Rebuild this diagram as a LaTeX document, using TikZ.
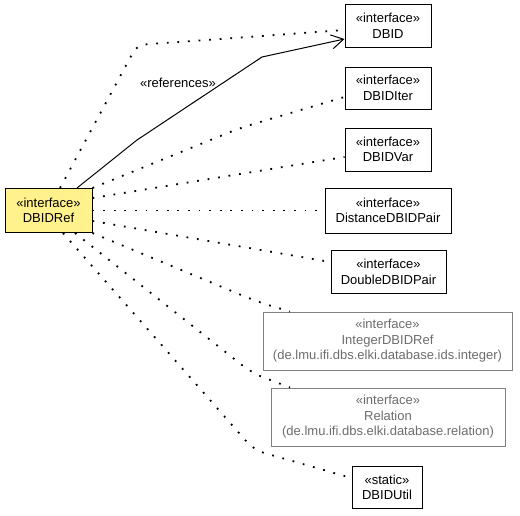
\documentclass[tikz,border=0pt]{standalone}
\usepackage{fontspec}
\setmainfont{Liberation Sans}
\usepackage{xcolor}
\usetikzlibrary{arrows.meta,positioning}
\definecolor{refyellow}{RGB}{255,241,140}
\definecolor{pkggray}{RGB}{128,128,128}
\tikzstyle{cls} = [rectangle, draw=black, fill=white, line width=1pt,
    align=center, inner sep=0pt, font=\fontsize{13}{15.5}\selectfont]
\tikzstyle{extcls} = [cls, draw=pkggray, text=pkggray!85!black]
\tikzstyle{dep} = [line width=1.8pt, dash pattern=on 1.8pt off 8.8pt]
\tikzstyle{assoc} = [line width=1pt, -{Straight Barb[length=12pt,width=14pt]}]

\begin{document}
\begin{tikzpicture}[x=1pt, y=-1pt]
\useasboundingbox (0,0) rectangle (520,515);

% ── Source class ────
\node[cls, fill=refyellow, minimum width=87pt, minimum height=44pt] (dbidref) at (48.5,210.5) {«interface»\\DBIDRef};

% ── Targets ────
\node[cls, minimum width=86pt, minimum height=43pt] (dbid) at (388,26) {«interface»\\DBID};
\node[cls, minimum width=86pt, minimum height=42pt] (dbiditer) at (388,88) {«interface»\\DBIDIter};
\node[cls, minimum width=86pt, minimum height=43pt] (dbidvar) at (388,149.5) {«interface»\\DBIDVar};
\node[cls, minimum width=126pt, minimum height=45pt] (distpair) at (388,210.5) {«interface»\\DistanceDBIDPair};
\node[cls, minimum width=115pt, minimum height=43pt] (doublepair) at (388.5,272) {«interface»\\DoubleDBIDPair};
\node[extcls, minimum width=249pt, minimum height=58pt] (intref) at (387.5,341) {«interface»\\IntegerDBIDRef\\(de.lmu.ifi.dbs.elki.database.ids.integer)};
\node[extcls, minimum width=234pt, minimum height=58pt] (relation) at (388,417) {«interface»\\Relation\\(de.lmu.ifi.dbs.elki.database.relation)};
\node[cls, minimum width=70pt, minimum height=42pt] (dbidutil) at (387,487.5) {«static»\\DBIDUtil};

% ── Association ────
\draw[assoc] ([xshift=28.5pt]dbidref.north) -- (137,140) -- (262,57) -- ([yshift=-13pt]dbid.west);
\node[font=\fontsize{13}{15.5}\selectfont] (reflabel) at (178,83) {«references»};

% ── Dependencies ────
\draw[dep, rounded corners=8pt] ([xshift=11.5pt]dbidref.north) -- (137,45) -- ([yshift=-4pt]dbid.west);
\draw[dep, rounded corners=12pt] (dbidref.north east) -- (240,128) -- ([yshift=-9pt]dbiditer.west);
\draw[dep] ([yshift=12.5pt]dbidref.east) -- ([yshift=-7.5pt]dbidvar.west);
\draw[dep] (dbidref.east) -- (distpair.west);
\draw[dep] ([yshift=-10.5pt]dbidref.east) -- ([yshift=10pt]doublepair.west);
\draw[dep, rounded corners=15pt] (dbidref.south east) -- (258,302) -- ([xshift=-97.5pt]intref.north);
\draw[dep, rounded corners=12pt] ([xshift=26.5pt]dbidref.south) -- (252,373) -- ([xshift=-98pt]relation.north);
\draw[dep, rounded corners=10pt] ([xshift=14.5pt]dbidref.south) -- (254,450) -- ([yshift=9.5pt]dbidutil.west);

\end{tikzpicture}
\end{document}
